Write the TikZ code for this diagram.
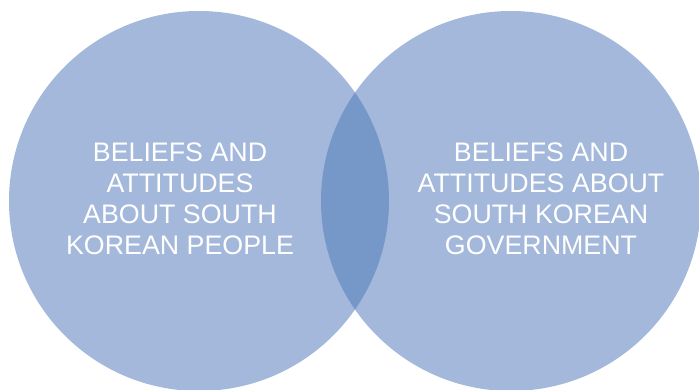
\documentclass[tikz,border=0pt]{standalone}
\usepackage{fontspec}
\setmainfont{Liberation Sans}
\definecolor{lightblue}{HTML}{A3B8DA}
\definecolor{darkblue}{HTML}{7698C9}
\begin{document}
\begin{tikzpicture}[x=1pt,y=1pt,
  vcircle/.style={circle,fill=lightblue,minimum size=380pt,inner sep=0pt},
  vlabel/.style={text=white,align=center,font=\fontsize{26.8}{31}\selectfont}]
\useasboundingbox (0,0) rectangle (699,389);
\node[vcircle] (L) at (199,188) {};
\node[vcircle] (R) at (511,188) {};
\begin{scope}
  \clip (199,188) circle (190);
  \fill[darkblue] (511,188) circle (190);
\end{scope}
\node[vlabel] (tl) at (180,190) {BELIEFS AND\\ATTITUDES\\ABOUT SOUTH\\KOREAN PEOPLE};
\node[vlabel] (tr) at (541,190) {BELIEFS AND\\ATTITUDES ABOUT\\SOUTH KOREAN\\GOVERNMENT};
\end{tikzpicture}
\end{document}
